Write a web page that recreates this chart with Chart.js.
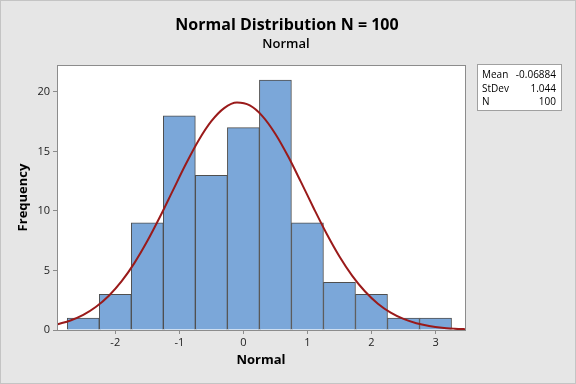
<!DOCTYPE html>
<html>
<head>
<meta charset="utf-8">
<script src="https://cdn.jsdelivr.net/npm/chart.js@4/dist/chart.umd.min.js"></script>
<style>
  html, body { margin: 0; padding: 0; background: #e6e6e6; }
  canvas { display: block; }
</style>
</head>
<body>
<canvas id="myChart" width="576" height="384"></canvas>
<script>
// histogram bins (width 0.5) and counts
const binMids = [-2.5, -2, -1.5, -1, -0.5, 0, 0.5, 1, 1.5, 2, 2.5, 3];
const counts = [1, 3, 9, 18, 13, 17, 21, 9, 4, 3, 1, 1];

// fitted normal curve
const curveX = [-2.9, -2.7, -2.5, -2.3, -2.1, -1.9, -1.7, -1.5, -1.3, -1.1, -0.9, -0.7, -0.5, -0.3, -0.1,
  0.1, 0.3, 0.5, 0.7, 0.9, 1.1, 1.3, 1.5, 1.7, 1.9, 2.1, 2.3, 2.5, 2.7, 2.9, 3.1, 3.3, 3.5];
const curveY = [0.48, 0.80, 1.27, 1.95, 2.88, 4.10, 5.64, 7.47, 9.53, 11.73, 13.92, 15.92, 17.54, 18.64, 19.10,
  18.86, 17.95, 16.47, 14.57, 12.42, 10.21, 8.09, 6.18, 4.55, 3.23, 2.21, 1.46, 0.93, 0.57, 0.34, 0.19, 0.11, 0.06];

const xTicks = [-2, -1, 0, 1, 2, 3];
const yTicks = [0, 5, 10, 15, 20];

const statLabels = ['Mean', 'StDev', 'N'];
const statValues = ['-0.06884', '1.044', '100'];

const FONT = "'Open Sans', 'Noto Sans', sans-serif";

const frame = {
  id: 'frame',
  beforeDraw(chart) {
    const { ctx, chartArea: a } = chart;
    ctx.save();
    ctx.fillStyle = '#e6e6e6';
    ctx.fillRect(0, 0, chart.width, chart.height);
    ctx.strokeStyle = '#c4c4c4';
    ctx.lineWidth = 1;
    ctx.strokeRect(0.5, 0.5, chart.width - 1, chart.height - 1);
    ctx.fillStyle = '#ffffff';
    ctx.fillRect(a.left, a.top, a.right - a.left, a.bottom - a.top);
    ctx.restore();
  },
  afterDraw(chart) {
    const { ctx, chartArea: a } = chart;
    ctx.save();
    // plot border
    ctx.strokeStyle = '#8c8c8c';
    ctx.lineWidth = 1;
    ctx.strokeRect(Math.round(a.left) + 0.5, Math.round(a.top) + 0.5,
      Math.round(a.right - a.left), Math.round(a.bottom - a.top));

    // titles
    ctx.fillStyle = '#000';
    ctx.textAlign = 'center';
    ctx.textBaseline = 'middle';
    ctx.font = "bold 16px " + FONT;
    ctx.fillText('Normal Distribution N = 100', 287, 25);
    ctx.font = "600 13px " + FONT;
    ctx.fillText('Normal', 286, 44);

    // stats box
    ctx.fillStyle = '#fff';
    ctx.fillRect(477, 65, 85, 46);
    ctx.strokeStyle = '#a0a0a0';
    ctx.strokeRect(477.5, 64.5, 84, 46);
    ctx.fillStyle = '#000';
    ctx.font = "10px " + FONT;
    statLabels.forEach((s, i) => {
      const y = 75 + i * 13.7;
      ctx.textAlign = 'left';
      ctx.fillText(s, 482, y);
      ctx.textAlign = 'right';
      ctx.fillText(statValues[i], 556, y);
    });
    ctx.restore();
  }
};

const ctx = document.getElementById('myChart');
new Chart(ctx, {
  type: 'bar',
  data: {
    datasets: [
      {
        type: 'line',
        data: curveX.map((x, i) => ({ x: x, y: curveY[i] })),
        borderColor: '#9a1a1a',
        borderWidth: 2,
        pointRadius: 0,
        cubicInterpolationMode: 'monotone',
        fill: false,
        order: 0
      },
      {
        type: 'bar',
        data: binMids.map((x, i) => ({ x: x, y: counts[i] })),
        backgroundColor: '#7ba7d9',
        borderColor: '#4f4f4f',
        borderWidth: 1,
        borderSkipped: 'bottom',
        barPercentage: 1,
        categoryPercentage: 1,
        order: 1
      }
    ]
  },
  options: {
    responsive: false,
    animation: false,
    layout: { padding: { left: 11, top: 65, right: 111, bottom: 12 } },
    plugins: {
      legend: { display: false },
      title: { display: false },
      tooltip: { enabled: false }
    },
    scales: {
      x: {
        type: 'linear',
        offset: false,
        min: -2.91,
        max: 3.46,
        afterFit(scale) { scale.height = 42; },
        afterBuildTicks(scale) { scale.ticks = xTicks.map(v => ({ value: v })); },
        grid: { offset: false, drawOnChartArea: false, drawTicks: true, tickLength: 4, color: '#8c8c8c' },
        border: { display: false },
        ticks: { color: '#222', font: { family: FONT, size: 11 }, padding: 2, maxRotation: 0 },
        title: { display: true, text: 'Normal', color: '#000', font: { family: FONT, size: 13, weight: 'bold' }, padding: { top: 2 } }
      },
      y: {
        min: 0,
        max: 22.26,
        afterFit(scale) { scale.width = 46; },
        afterBuildTicks(scale) { scale.ticks = yTicks.map(v => ({ value: v })); },
        grid: { drawOnChartArea: false, drawTicks: true, tickLength: 4, color: '#8c8c8c' },
        border: { display: false },
        ticks: { color: '#222', font: { family: FONT, size: 11 }, padding: 3 },
        title: { display: true, text: 'Frequency', color: '#000', font: { family: FONT, size: 13, weight: 'bold' }, padding: { bottom: 4 } }
      }
    }
  },
  plugins: [frame]
});
</script>
</body>
</html>
